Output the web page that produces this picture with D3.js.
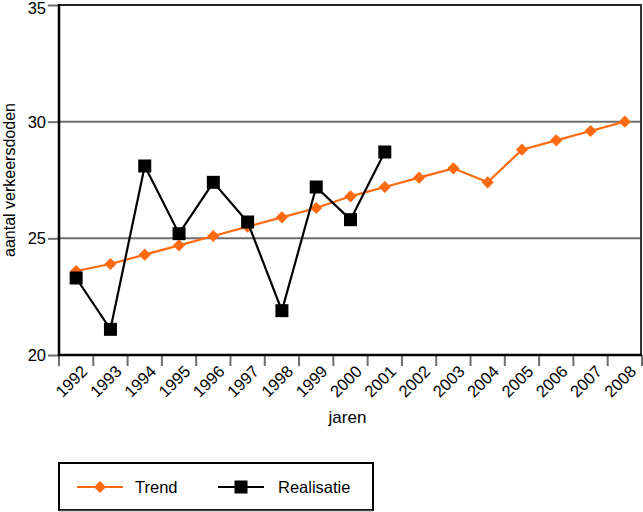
<!DOCTYPE html>
<html><head><meta charset="utf-8">
<script src="https://cdn.jsdelivr.net/npm/d3@7"></script>
<style>body{margin:0;background:#fff}svg{display:block;font-family:"Liberation Sans",Arial,sans-serif}</style>
</head><body><svg id="c" width="643" height="512"></svg>
<script>
const years = ["1992","1993","1994","1995","1996","1997","1998","1999","2000","2001","2002","2003","2004","2005","2006","2007","2008"];
const trend = [23.6,23.9,24.3,24.7,25.1,25.5,25.9,26.3,26.8,27.2,27.6,28.0,27.4,28.8,29.2,29.6,30.0];
const realisatie = [23.3,21.1,28.1,25.2,27.4,25.7,21.9,27.2,25.8,28.7];
const yTicks = [20,25,30,35];

const svg = d3.select("#c");
const L=59, R=642, T=5, B=355;
const x = d3.scaleBand().domain(years).range([L,R]);
const y = d3.scaleLinear().domain([20,35]).range([B,T]);
const cx = d => x(d)+x.bandwidth()/2;

// gridlines
svg.append("g").selectAll("line").data(yTicks.filter(v=>v>20&&v<35)).join("line")
  .attr("x1",L).attr("x2",R).attr("y1",d=>y(d)).attr("y2",d=>y(d))
  .attr("stroke","#6e6e6e").attr("stroke-width",2);
// top & right borders
svg.append("line").attr("x1",L).attr("x2",R).attr("y1",y(35)).attr("y2",y(35)).attr("stroke","#222").attr("stroke-width",2);
svg.append("line").attr("x1",R-1).attr("x2",R-1).attr("y1",T).attr("y2",B).attr("stroke","#333").attr("stroke-width",2);

// y axis
const ya = svg.append("g").attr("transform",`translate(${L},0)`)
  .call(d3.axisLeft(y).tickValues(yTicks).tickSize(11).tickPadding(2).tickFormat(d3.format("d")));
ya.select(".domain").remove();
ya.selectAll(".tick line").attr("stroke","#6e6e6e").attr("stroke-width",2);
ya.selectAll(".tick text").attr("font-size",16.5).attr("fill","#000").attr("font-family","Liberation Sans, Arial, sans-serif")
  .attr("dy",d=>d===35?"0.5em":"0.34em");
svg.append("line").attr("x1",L).attr("x2",L).attr("y1",T-1).attr("y2",B+1).attr("stroke","#000").attr("stroke-width",2.5);

// x axis ticks at band boundaries
svg.append("g").selectAll("line").data(years.concat(["end"])).join("line")
  .attr("x1",(d,i)=>i<years.length?x(d):R).attr("x2",(d,i)=>i<years.length?x(d):R)
  .attr("y1",B).attr("y2",B+11).attr("stroke","#6e6e6e").attr("stroke-width",2);
svg.append("line").attr("x1",L-1).attr("x2",R).attr("y1",B).attr("y2",B).attr("stroke","#000").attr("stroke-width",2.5);
svg.append("g").selectAll("text").data(years).join("text")
  .attr("transform",d=>`translate(${cx(d)+4},${B+9}) rotate(-45)`)
  .attr("text-anchor","end").attr("dy","0.72em").attr("font-size",16.5).text(d=>d);

// axis titles
svg.append("text").attr("x",(L+R)/2-3).attr("y",423).attr("text-anchor","middle").attr("font-size",17).text("jaren");
svg.append("text").attr("transform",`translate(14.5,180) rotate(-90)`).attr("text-anchor","middle").attr("font-size",16).text("aantal verkeersdoden");

const orange="#ff6a10";
const line = d3.line().x((d,i)=>cx(years[i])).y(d=>y(d));
svg.append("path").datum(trend).attr("d",line).attr("fill","none").attr("stroke",orange).attr("stroke-width",2.2);
svg.append("g").selectAll("path").data(trend).join("path")
  .attr("d",d3.symbol(d3.symbolDiamond2,95)())
  .attr("transform",(d,i)=>`translate(${cx(years[i])},${y(d)})`).attr("fill",orange);

svg.append("path").datum(realisatie).attr("d",line).attr("fill","none").attr("stroke","#000").attr("stroke-width",2.2);
svg.append("g").selectAll("rect").data(realisatie).join("rect")
  .attr("x",(d,i)=>cx(years[i])-6.5).attr("y",d=>y(d)-6.5).attr("width",13).attr("height",13).attr("fill","#000");

// legend
const lg = svg.append("g");
lg.append("rect").attr("x",59).attr("y",463).attr("width",314).attr("height",47).attr("fill","#fff").attr("stroke","#000").attr("stroke-width",2);
lg.append("line").attr("x1",59).attr("x2",373).attr("y1",510.5).attr("y2",510.5).attr("stroke","#444").attr("stroke-width",1.5);
lg.append("line").attr("x1",77).attr("x2",123).attr("y1",487).attr("y2",487).attr("stroke",orange).attr("stroke-width",2.2);
lg.append("path").attr("d",d3.symbol(d3.symbolDiamond2,95)()).attr("transform","translate(100,487)").attr("fill",orange);
lg.append("text").attr("x",135).attr("y",493).attr("font-size",16.5).text("Trend");
lg.append("line").attr("x1",218).attr("x2",264).attr("y1",487).attr("y2",487).attr("stroke","#000").attr("stroke-width",2.2);
lg.append("rect").attr("x",234.5).attr("y",480.5).attr("width",13).attr("height",13).attr("fill","#000");
lg.append("text").attr("x",278).attr("y",493).attr("font-size",16.5).text("Realisatie");
</script></body></html>
